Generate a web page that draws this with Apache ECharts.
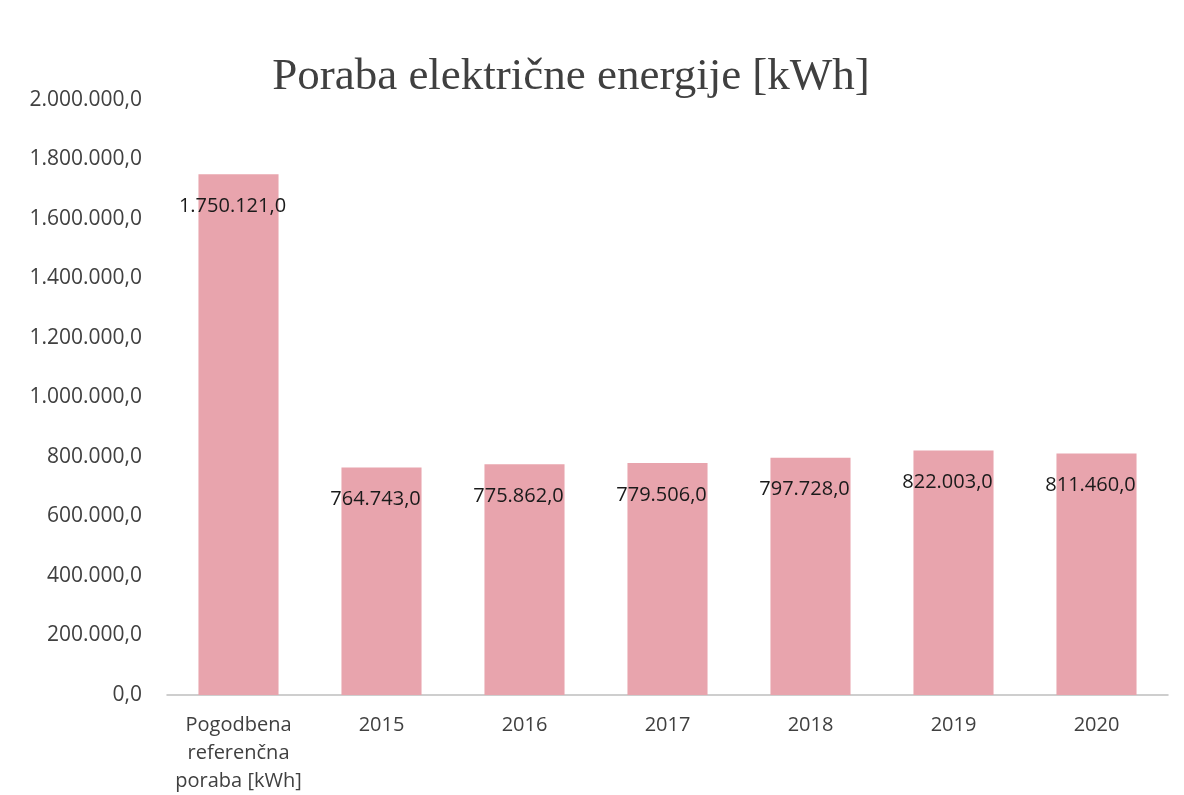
<!DOCTYPE html>
<html>
<head>
<meta charset="utf-8">
<script src="https://cdn.jsdelivr.net/npm/echarts@6/dist/echarts.min.js"></script>
<style>
  html, body { margin: 0; padding: 0; background: #fff; }
  #chart { width: 1184px; height: 795px; }
</style>
</head>
<body>
<div id="chart"></div>
<script>
// podatki
const categories = ['Pogodbena\nreferenčna\nporaba [kWh]', '2015', '2016', '2017', '2018', '2019', '2020']
const values = [1750121, 764743, 775862, 779506, 797728, 822003, 811460]

// 1.234.567,0
const fmt = v => {
  const s = Math.round(v).toString().replace(/\B(?=(\d{3})+(?!\d))/g, '.')
  return s + ',0'
}

const chart = echarts.init(document.getElementById('chart'))
chart.setOption({
  animation: false,
  title: {
    text: 'Poraba električne energije [kWh]',
    left: 566,
    textAlign: 'center',
    top: 50,
    textStyle: {
      fontFamily: 'Liberation Serif',
      fontSize: 45,
      fontWeight: 'normal',
      color: '#404040'
    }
  },
  grid: {
    left: 167,
    right: 16,
    top: 100,
    bottom: 98
  },
  xAxis: {
    type: 'category',
    data: categories,
    axisLine: { lineStyle: { color: '#bfbfbf', width: 1.5 } },
    axisTick: { show: false },
    axisLabel: {
      color: '#404040',
      fontFamily: 'Open Sans',
      fontSize: 20,
      lineHeight: 28,
      margin: 16,
      interval: 0
    }
  },
  yAxis: {
    type: 'value',
    min: 0,
    max: 2000000,
    interval: 200000,
    axisLine: { show: false },
    axisTick: { show: false },
    splitLine: { show: false },
    axisLabel: {
      color: '#404040',
      fontFamily: 'Open Sans',
      fontSize: 21,
      margin: 25,
      formatter: fmt
    }
  },
  series: [
    {
      type: 'bar',
      data: values,
      barWidth: '56%',
      itemStyle: { color: '#e8a4ad' },
      label: {
        show: true,
        position: 'insideTop',
        distance: 22,
        offset: [-6, 0],
        color: '#1a1a1a',
        fontFamily: 'Open Sans',
        fontSize: 20,
        formatter: p => fmt(p.value)
      }
    }
  ]
})
</script>
</body>
</html>
